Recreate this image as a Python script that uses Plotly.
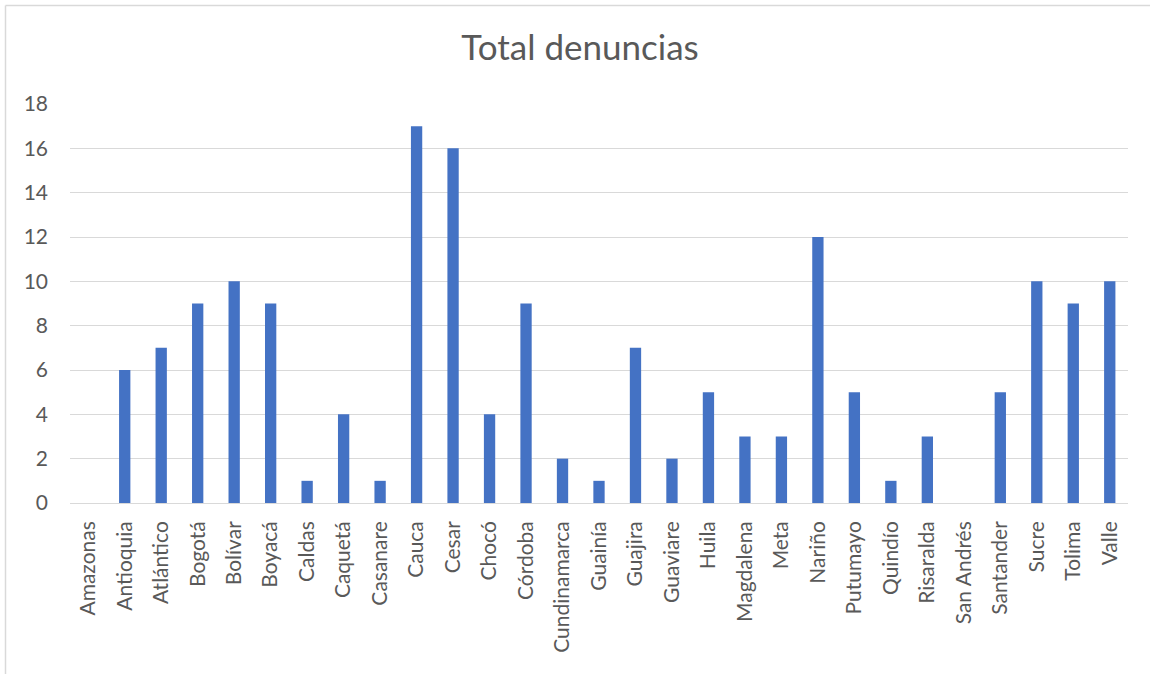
import plotly.graph_objects as go

categories = ["Amazonas", "Antioquia", "Atlántico", "Bogotá", "Bolívar", "Boyacá", "Caldas",
              "Caquetá", "Casanare", "Cauca", "Cesar", "Chocó", "Córdoba", "Cundinamarca",
              "Guainía", "Guajira", "Guaviare", "Huila", "Magdalena", "Meta", "Nariño",
              "Putumayo", "Quindío", "Risaralda", "San Andrés", "Santander", "Sucre",
              "Tolima", "Valle"]
values = [0, 6, 7, 9, 10, 9, 1, 4, 1, 17, 16, 4, 9, 2, 1, 7, 2, 5, 3, 3, 12, 5, 1, 3, 0, 5, 10, 9, 10]
y_ticks = [0, 2, 4, 6, 8, 10, 12, 14, 16, 18]

W, H = 1150, 674
L, R, T, B = 70, 22, 104, 171
pw, ph = W - L - R, H - T - B

def px_x(x):
    return (x - L) / pw

def px_y(y):
    return ((T + ph) - y) / ph

fig = go.Figure(go.Bar(x=categories, y=values, marker=dict(color="#4472c4", line=dict(width=0))))

font_fam = "Lato, 'Open Sans', sans-serif"
border = dict(color="#d9d9d9", width=1.5)
fig.update_layout(
    width=W, height=H,
    margin=dict(l=L, r=R, t=T, b=B),
    paper_bgcolor="white", plot_bgcolor="white",
    bargap=0.69,
    showlegend=False,
    font=dict(family=font_fam, color="#595959", size=21),
    title=dict(text="Total denuncias", x=px_x(580), xref="paper", xanchor="center",
               y=1 - 48 / H, yanchor="middle",
               font=dict(size=35, color="#595959", family=font_fam)),
    xaxis=dict(tickangle=-90, showgrid=False, showline=False, ticks="",
               ticklabelstandoff=13,
               tickfont=dict(size=21, color="#595959")),
    yaxis=dict(range=[0, 18], tickvals=y_ticks, showgrid=True, gridcolor="#d9d9d9", gridwidth=1,
               zeroline=True, zerolinecolor="#d9d9d9", zerolinewidth=1, ticks="",
               ticklabelstandoff=21,
               tickfont=dict(size=21, color="#595959")),
    shapes=[
        dict(type="line", xref="paper", yref="paper", x0=px_x(5.5), x1=px_x(1151),
             y0=px_y(5.5), y1=px_y(5.5), line=border, layer="below"),
        dict(type="line", xref="paper", yref="paper", x0=px_x(5.5), x1=px_x(5.5),
             y0=px_y(5.5), y1=px_y(675), line=border, layer="below"),
    ],
)

fig.write_html("out.html", config={"displayModeBar": False},
               post_script="document.body.style.margin='0';")
